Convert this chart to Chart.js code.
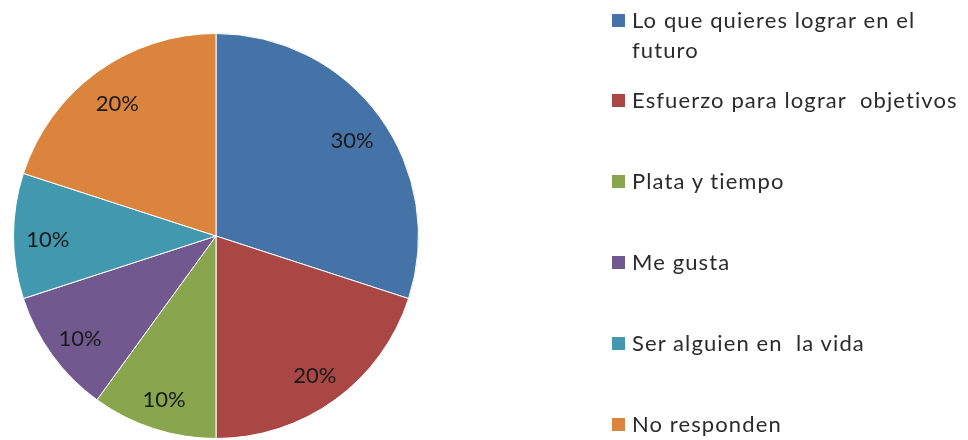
<!DOCTYPE html>
<html>
<head>
<meta charset="utf-8">
<script src="https://cdn.jsdelivr.net/npm/chart.js@4"></script>
<style>
    body { margin: 0; background: #fff; }
    #wrap { position: relative; width: 968px; height: 440px; }
    #pieChart { position: absolute; left: 0; top: 0; }
    #legend { position: absolute; left: 612px; top: 5px; font-family: Lato, sans-serif; font-size: 22px; color: #2b2b2b; letter-spacing: 1.1px; }
    .leg-item { display: flex; align-items: flex-start; line-height: 30px; margin-top: 51px; }
    .leg-item:first-child { margin-top: 0; }
    .leg-item:nth-child(2) { margin-top: 20px; }
    .leg-box { width: 13px; height: 13px; margin-top: 9px; margin-right: 7px; flex: none; }
</style>
</head>
<body>
<div id="wrap">
    <canvas id="pieChart" width="968" height="440"></canvas>
    <div id="legend"></div>
</div>
<script>

const Labels = [["Lo que quieres lograr en el", "futuro"], "Esfuerzo para lograr  objetivos", "Plata y tiempo", "Me gusta", "Ser alguien en  la vida", "No responden"];
const Data = [30, 20, 10, 10, 10, 20];
const Color = ["#4572A7", "#AA4643", "#89A54E", "#71588F", "#4198AF", "#DB843D"];

// percent labels inside the slices
const sliceLabels = {
    id: 'sliceLabels',
    afterDatasetsDraw(chart) {
        const ctx = chart.ctx;
        const meta = chart.getDatasetMeta(0);
        const total = Data.reduce((a, b) => a + b, 0);
        ctx.save();
        ctx.font = '22px Lato';
        ctx.fillStyle = '#1a1a1a';
        ctx.textAlign = 'center';
        ctx.textBaseline = 'middle';
        meta.data.forEach((arc, i) => {
            const p = arc.getProps(['x', 'y', 'startAngle', 'endAngle', 'outerRadius'], true);
            const mid = (p.startAngle + p.endAngle) / 2;
            const r = p.outerRadius * 0.83;
            const pct = Math.round(Data[i] / total * 100) + '%';
            ctx.fillText(pct, p.x + Math.cos(mid) * r, p.y + Math.sin(mid) * r + 4);
        });
        ctx.restore();
    }
};

new Chart("pieChart", {
    type: "pie",
    data: {
        labels: Labels,
        datasets: [{
            backgroundColor: Color,
            borderColor: "#ffffff",
            borderWidth: 1,
            data: Data
        }]
    },
    options: {
        responsive: false,
        animation: false,
        layout: { padding: { left: 13, top: 33, right: 549, bottom: 1 } },
        plugins: {
            legend: { display: false },
            tooltip: { enabled: false }
        }
    },
    plugins: [sliceLabels]
});

// legend on the right
const legend = document.getElementById('legend');
for (let i = 0; i < Labels.length; i++) {
    const item = document.createElement('div');
    item.className = 'leg-item';
    const box = document.createElement('span');
    box.className = 'leg-box';
    box.style.backgroundColor = Color[i];
    const txt = document.createElement('span');
    txt.style.whiteSpace = 'pre';
    txt.textContent = Array.isArray(Labels[i]) ? Labels[i].join('\n') : Labels[i];
    item.appendChild(box);
    item.appendChild(txt);
    legend.appendChild(item);
}
</script>
</body>
</html>
